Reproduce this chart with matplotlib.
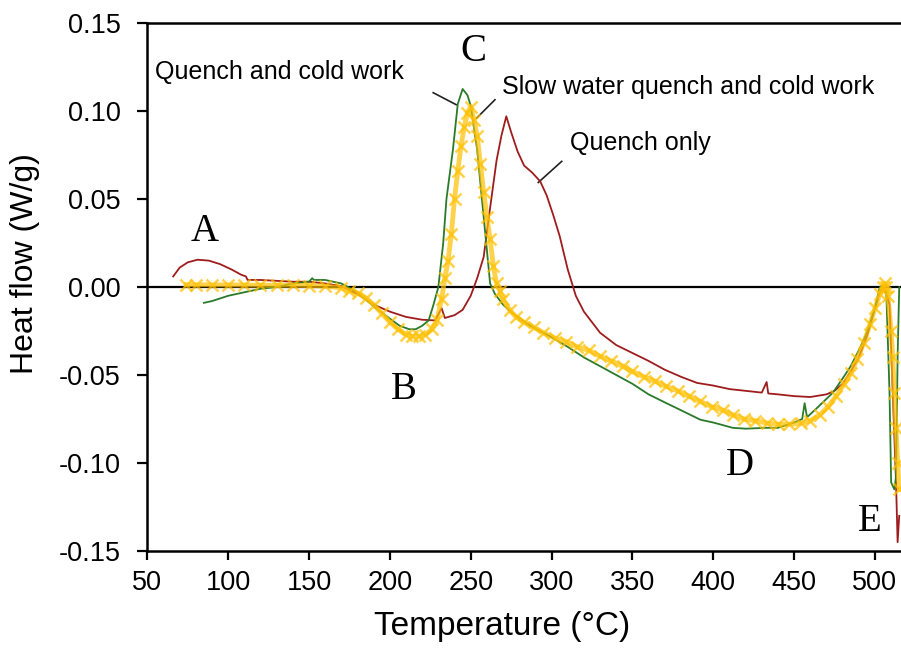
import matplotlib
matplotlib.use("Agg")
import matplotlib.pyplot as plt

plt.rcParams['font.family'] = ['Liberation Sans', 'DejaVu Sans']
plt.rcParams['axes.unicode_minus'] = False

# Quench only (red)
red_t = [66, 70, 75, 81, 88, 95, 102, 108, 111, 112, 120, 130, 140, 150, 160, 170,
         180, 190, 200, 210, 220, 228, 232, 234, 240, 245, 250, 254, 258, 262, 266,
         269, 272, 275, 279, 283, 288, 293, 297, 301, 305, 310, 315, 320, 330, 340,
         350, 360, 370, 380, 390, 400, 410, 420, 430, 433, 434, 440, 450, 460, 470,
         475, 480, 485, 490, 495, 500, 503, 505, 507, 509, 511, 513, 514, 515]
red_q = [0.006, 0.011, 0.014, 0.0155, 0.015, 0.013, 0.010, 0.007, 0.006, 0.004, 0.004,
         0.0035, 0.003, 0.003, 0.002, 0.0005, -0.004, -0.010, -0.014, -0.017, -0.0186,
         -0.019, -0.012, -0.0176, -0.016, -0.013, -0.005, 0.005, 0.017, 0.045, 0.072,
         0.086, 0.097, 0.088, 0.077, 0.069, 0.065, 0.060, 0.052, 0.041, 0.029, 0.010,
         -0.005, -0.014, -0.026, -0.033, -0.0375, -0.042, -0.047, -0.051, -0.0545,
         -0.056, -0.058, -0.059, -0.060, -0.054, -0.0605, -0.061, -0.062, -0.0625,
         -0.061, -0.059, -0.055, -0.048, -0.040, -0.028, -0.012, -0.003, 0.0, -0.004,
         -0.010, -0.060, -0.110, -0.145, -0.130]

# Quench and cold work (green)
green_t = [85, 90, 100, 110, 120, 130, 140, 150, 152, 153, 160, 170, 180, 190, 200,
           206, 212, 216, 220, 224, 227, 230, 233, 235, 239, 242, 245, 248, 250, 254,
           258, 262, 265, 270, 276, 285, 299, 310, 320, 330, 340, 350, 360, 371, 380,
           392, 400, 412, 420, 433, 440, 450, 455, 456.5, 458, 465, 474, 480, 485, 490,
           495, 500, 503, 505, 507, 509, 510, 512, 513, 514, 515]
green_q = [-0.009, -0.008, -0.005, -0.003, -0.001, 0.0, 0.002, 0.003, 0.005, 0.004,
           0.004, 0.002, -0.003, -0.011, -0.018, -0.022, -0.024, -0.024, -0.022, -0.019,
           -0.010, 0.0, 0.025, 0.050, 0.078, 0.104, 0.1125, 0.109, 0.103, 0.078, 0.040,
           0.002, -0.004, -0.010, -0.015, -0.021, -0.028, -0.034, -0.040, -0.045,
           -0.050, -0.055, -0.061, -0.066, -0.070, -0.0754, -0.077, -0.080, -0.0805,
           -0.080, -0.080, -0.077, -0.075, -0.066, -0.074, -0.068, -0.060, -0.052,
           -0.045, -0.036, -0.026, -0.012, 0.0, 0.001, -0.003, -0.060, -0.111, -0.115,
           -0.108, -0.040, 0.0]

# Slow water quench and cold work (yellow)
yel_t = [74, 80, 90, 100, 110, 120, 130, 140, 150, 160, 170, 175, 180, 185, 190, 195,
         200, 205, 210, 214, 218, 222, 226, 229, 232, 234, 236, 238, 240, 242, 244, 246,
         248, 250, 252, 254, 256, 258, 260, 262, 264, 266, 268, 270, 274, 278, 283, 289,
         295, 302, 309, 316, 323, 330, 337, 344, 350, 357, 364, 371, 378, 385, 392, 399,
         406, 412, 419, 426, 433, 440, 447, 454, 460, 466, 471, 476, 481, 485, 489, 493,
         497, 500, 503, 505, 506, 507, 508, 510, 511, 512, 513, 514, 515]
yel_q = [0.0013, 0.0013, 0.0012, 0.0012, 0.0011, 0.001, 0.001, 0.001, 0.0008, 0.0005,
         -0.0005, -0.002, -0.0035, -0.006, -0.010, -0.015, -0.020, -0.024, -0.027,
         -0.028, -0.028, -0.027, -0.024, -0.019, -0.007, 0.005, 0.015, 0.030, 0.050,
         0.066, 0.080, 0.091, 0.099, 0.1025, 0.095, 0.086, 0.070, 0.054, 0.040, 0.027,
         0.012, 0.002, -0.002, -0.007, -0.013, -0.017, -0.020, -0.023, -0.026, -0.029,
         -0.031, -0.034, -0.036, -0.0394, -0.042, -0.045, -0.048, -0.051, -0.0535,
         -0.0565, -0.059, -0.062, -0.065, -0.068, -0.070, -0.0726, -0.075, -0.076,
         -0.0773, -0.078, -0.078, -0.0775, -0.076, -0.0725, -0.068, -0.062, -0.055,
         -0.049, -0.041, -0.032, -0.021, -0.012, -0.004, 0.0, 0.002, 0.0, -0.005,
         -0.025, -0.040, -0.060, -0.080, -0.100, -0.115]

# peak letters and series labels
letters = ['A', 'B', 'C', 'D', 'E']
letter_x = [85.7, 208.7, 251.4, 416.5, 497]
letter_y = [0.0314, -0.0584, 0.1337, -0.1015, -0.1334]

labels = ['Quench and cold work', 'Slow water quench and cold work', 'Quench only']
label_x = [54.8, 269.3, 311.3]
label_y = [0.1223, 0.1138, 0.082]
leader_x = [(226.8, 241), (265, 253.7), (306.3, 291.8)]
leader_y = [(0.1104, 0.1036), (0.1064, 0.096), (0.0714, 0.0594)]

fig = plt.figure(figsize=(9.01, 6.49), dpi=100)
ax = fig.add_axes([147.3 / 901, 1 - 551 / 649, 1 - 147.3 / 901, 528 / 649])

ax.plot(red_t, red_q, color='#9E1C1C', lw=1.3, zorder=3)
ax.plot(green_t, green_q, color='#2A7A2A', lw=1.3, zorder=3)
ax.plot(yel_t, yel_q, color='#FFC000', lw=3.5, marker='x', ms=8, mew=1.8,
        alpha=0.7, zorder=4)
ax.axhline(0, color='black', lw=1.6, zorder=2)

for s, x, y in zip(letters, letter_x, letter_y):
    ax.text(x, y, s, family=['Liberation Serif'], fontsize=28, ha='center', va='center')
for s, x, y in zip(labels, label_x, label_y):
    ax.text(x, y, s, fontsize=18, ha='left', va='center')
for lx, ly in zip(leader_x, leader_y):
    ax.plot(lx, ly, color='#222222', lw=1.2)

ax.set_xlim(50, 516.1)
ax.set_ylim(-0.15, 0.15)
ax.set_xticks(range(50, 501, 50))
ax.set_yticks([-0.15, -0.10, -0.05, 0.0, 0.05, 0.10, 0.15])
ax.set_yticklabels(['%.2f' % v for v in [-0.15, -0.10, -0.05, 0.0, 0.05, 0.10, 0.15]])
ax.tick_params(axis='x', direction='out', length=6.5, width=1.6, labelsize=19.5, pad=7)
ax.tick_params(axis='y', direction='out', length=7, width=1.6, labelsize=19.5, pad=12)
ax.spines['right'].set_visible(False)
for side in ['left', 'top', 'bottom']:
    ax.spines[side].set_linewidth(1.8)

ax.set_xlabel('Temperature (°C)', fontsize=24)
ax.set_ylabel('Heat flow (W/g)', fontsize=23)
ax.xaxis.set_label_coords(0.4706, -0.114)
ax.yaxis.set_label_coords(-0.142, 0.5436)

fig.savefig('out.png', dpi=100)
